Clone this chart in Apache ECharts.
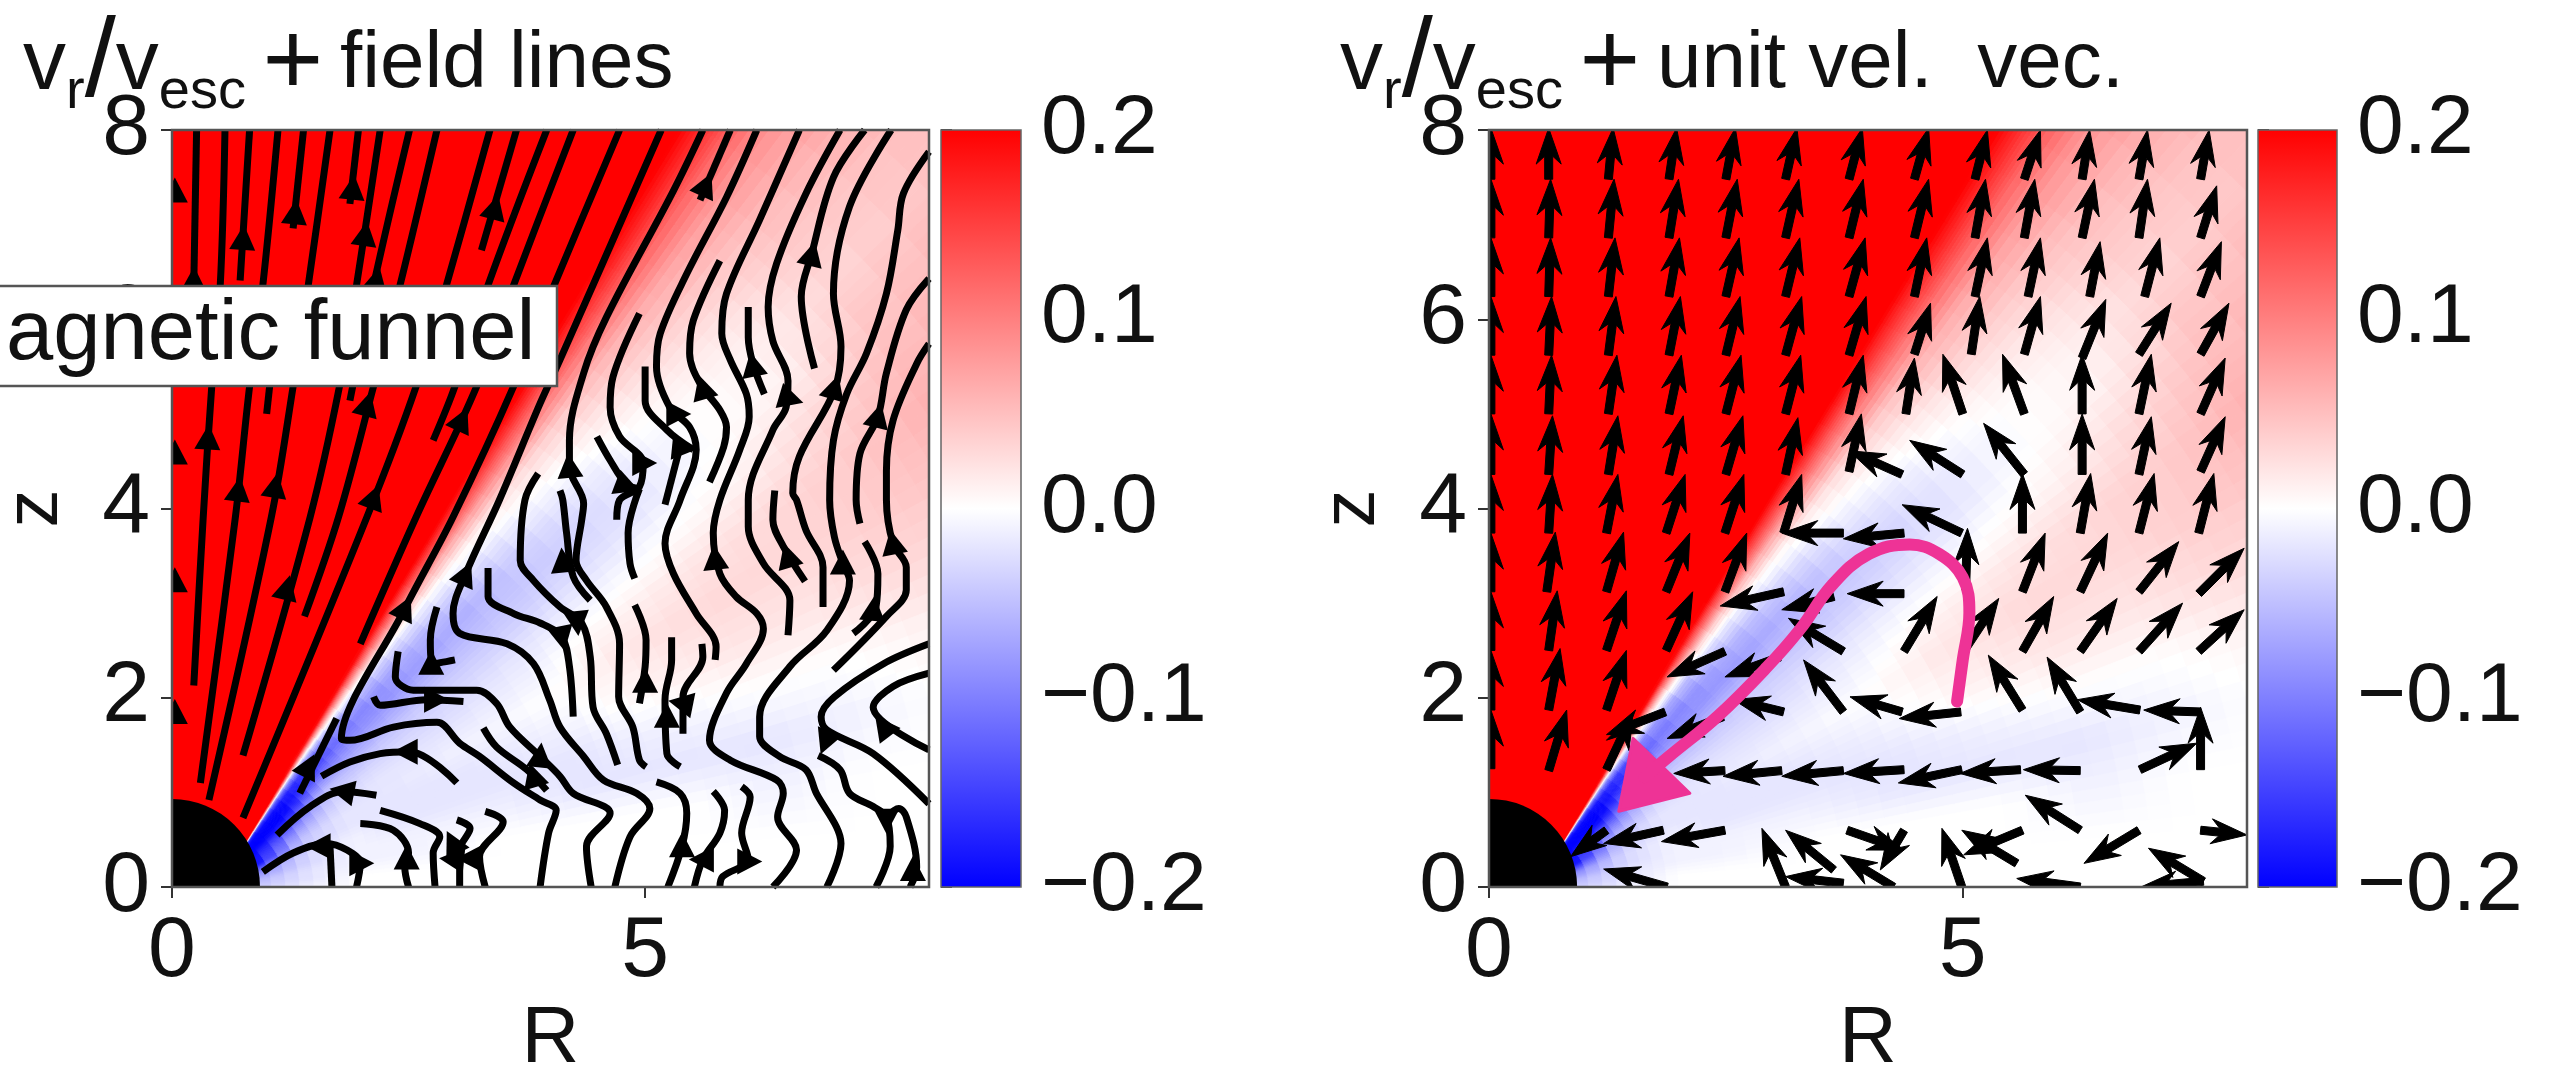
<!DOCTYPE html>
<html><head><meta charset="utf-8">
<style>html,body{margin:0;padding:0;background:#fff}#c{width:2566px;height:1079px}</style>
<script src="https://cdn.jsdelivr.net/npm/echarts@6/dist/echarts.min.js"></script>
</head><body><div id="c"></div>
<script>
const xTicks=[0,5], yTicksLeft=[0,2,4,6,8], yTicksRight=[0,2,4,6,8], barTicks=[-0.2,-0.1,0,0.1,0.2];
const barLabels={'-0.2':'\u22120.2','-0.1':'\u22120.1','0':'0.0','0.1':'0.1','0.2':'0.2'};
const titleLeft='field lines', titleRight='unit vel.  vec.', boxText='agnetic funnel';
const diskRadius=[0.93];
const funnelBase=[[0,0],[0,8],[5.6,8],[0.5,0]];
// v_r/v_esc x 100 on a fan mesh around (fanR,0): rows = distance, columns = angle from vertical
const fanR=[0.5];
const fanAngles=[26,29,31,32,33,34,36,39,42,45,48,52,56,60,65,70,75,80,85,90];
const fanDist=[0.4,1,1.5,2,3,4,5,6,7,8,9,11];
const fan040=[22,22,20,0,-15,-20,-20,-20,-20,-20,-20,-20,-20,-20,-15,-10,-8,-6,-5,-4];
const fan100=[22,22,20,8,-8,-14,-19,-20,-20,-18,-14,-10,-7,-5,-4,-3,-3,-2,-2,-1];
const fan150=[22,22,18,8,-2,-8,-15,-16,-12,-8,-5,-4,-3,-2,-2,-1,-1,-1,0,0];
const fan200=[22,22,19,10,3,-2,-9,-11,-9,-7,-5,-3,-2,-2,-2,-2,-1,-1,0,0];
const fan300=[22,22,19,13,8,3,-3,-7,-8,-6,-4,-3,-2,-1,-2,-2,-1,0,0,0];
const fan400=[22,22,20,15,11,6,0,-4,-6,-5,-4,-2,-1,0,-1,-2,-2,0,0,0];
const fan500=[22,22,20,16,12,8,2,-1,-3,-4,-3,-1,1,2,1,-1,-2,0,0,0];
const fan600=[22,22,21,17,13,10,4,1,-1,-2,-2,0,2,3,2,0,-2,-1,0,0];
const fan700=[22,22,21,17,14,11,6,3,1,0,0,1,3,3,2,0,-1,0,0,0];
const fan800=[22,22,21,18,15,12,7,4,2,1,1,3,4,4,3,1,0,0,0,0];
const fan900=[22,22,21,18,15,12,8,5,4,3,4,5,6,5,3,1,0,0,0,0];
const fan1100=[22,22,21,18,16,13,9,7,5,5,6,7,7,6,4,2,1,0,0,0];
const fanRows=[fan040,fan100,fan150,fan200,fan300,fan400,fan500,fan600,fan700,fan800,fan900,fan1100];

const fieldLines=[
[[.23,2.13],[.33,3.91],[.42,5.29],[.51,6.36],[.56,8]],
[[.30,1.10],[.67,3.91],[.82,5.29],[.96,6.36],[1.12,8]],
[[.23,6.36],[.26,8]],[[.72,6.41],[.82,8]],
[[.39,.92],[1.05,3.91],[1.28,5.29],[1.44,6.36],[1.67,8]],
[[1.0,5.0],[1.07,5.64]],[[1.28,6.96],[1.39,8]],
[[.75,1.39],[1.46,3.91],[1.77,5.29],[1.95,6.36],[2.2,8]],
[[1.88,7.22],[1.97,8]],[[1.88,5.14],[2.13,6.36],[2.51,8]],
[[1.40,2.86],[1.76,3.91],[2.13,5.29],[2.41,6.36],[2.80,8]],
[[.75,.73],[2.06,3.91],[2.58,5.29],[2.90,6.36],[3.36,8]],
[[3.27,6.73],[3.64,8]],[[2.76,4.72],[2.99,5.29],[3.34,6.36],[3.96,8]],
[[1.99,2.57],[2.58,3.91],[3.22,5.29],[3.61,6.36],[4.24,8]],
[[4.73,8],[4.06,6.41],[3.61,5.29],[2.97,3.91],[2.46,2.94],[1.79,1.57],[1.88,1.55],[2.34,1.69],[2.80,1.74],[3.04,1.52],[3.25,1.38],[3.61,1.10],[3.89,.92],[4.06,.81],[3.98,.57],[3.89,0]],
[[5.17,8],[4.1,5.57],[3.89,5.11],[3.46,4.09],[3.10,3.30],[2.97,2.89],[3.04,2.68],[3.54,2.57],[3.82,2.36],[3.99,1.98],[4.10,1.69],[4.35,1.38],[4.56,1.13],[4.91,.99],[5.05,.83],[4.84,.53],[4.68,0]],
[[5.61,8],[5.30,7.36],[4.59,6.02],[4.35,5.43],[4.2,4.72],[4.2,4.44],[4.35,4.05],[4.33,3.88],[4.27,3.45],[4.38,3.24],[4.59,2.96],[4.73,2.57],[4.72,2.01],[4.87,1.69],[4.94,1.34],[5.01,1.27]],
[[4.10,4.19],[4.13,4.09],[4.17,3.74],[4.24,3.28],[4.42,3.03]],
[[5.90,8],[5.58,7.26]],
[[6.18,8],[5.86,7.29],[5.44,6.48],[5.16,5.85],[5.12,5.5],[5.26,5.07],[5.47,4.86],[5.54,4.62],[5.37,4.09],[5.21,3.63],[5.30,3.31],[5.54,2.89],[5.75,2.54],[5.74,2.40]],
[[4.94,6.06],[4.66,5.39],[4.63,5.07],[4.73,4.76],[4.98,4.48],[4.94,4.23],[4.73,4.09],[4.70,3.88]],
[[5.0,5.5],[5.0,5.14],[5.23,4.83],[5.51,4.62]],[[5.35,4.58],[5.21,4.04]],
[[4.49,4.76],[4.63,4.51],[4.80,4.26],[4.94,4.21]],
[[4.94,4.21],[4.82,3.74],[4.84,3.42],[4.89,3.26]],
[[5.79,6.62],[5.51,5.99],[5.47,5.64],[5.58,5.32],[5.79,5.04],[5.86,4.86],[5.83,4.65],[5.68,4.28]],
[[6.63,8],[6.21,7.05],[5.86,6.27],[5.81,5.85],[5.90,5.57],[6.07,5.21],[6.10,4.97],[6.0,4.62],[5.79,4.09],[5.72,3.74],[5.79,3.31],[5.96,3.07],[6.18,2.89],[6.25,2.73],[6.07,2.36],[5.86,2.05],[5.68,1.55],[5.90,1.34],[6.39,1.13],[6.46,.99],[6.40,.74],[6.60,.39],[6.35,0]],
[[7.06,8],[6.70,7.33],[6.39,6.59],[6.30,6.13],[6.35,5.77],[6.51,5.35],[6.49,5.07],[6.35,4.83],[6.09,4.09],[6.09,3.81],[6.25,3.42],[6.53,3.03],[6.51,2.66]],
[[7.32,8],[6.99,7.5],[6.76,6.69],[6.65,6.24],[6.79,5.48]],
[[6.09,6.13],[6.09,5.81],[6.14,5.53],[6.26,5.21]],
[[7.60,8],[7.16,7.19],[6.99,6.27],[7.07,5.71],[7.0,5.25],[6.63,4.55],[6.56,4.16],[6.60,4.09],[6.70,3.77],[6.88,3.38],[6.88,2.96]],
[[6.37,4.19],[6.35,3.88],[6.46,3.6],[6.69,3.23]],
[[8,7.77],[7.73,7.33],[7.67,6.94],[7.55,6.27],[7.34,5.64],[7.13,5.21],[6.99,4.72],[6.95,4.09],[7.0,3.70],[7.09,3.42],[7.16,3.24],[6.92,2.71],[6.53,2.33],[6.21,1.80],[6.21,1.59],[6.42,1.38],[6.70,1.24],[6.81,.99],[7.02,.64],[7.07,.46],[6.92,0]],
[[8,6.43],[7.76,6.1],[7.55,5.43],[7.46,4.97],[7.27,4.58],[7.23,4.09],[7.27,3.84]],
[[8,5.74],[7.87,5.53],[7.62,4.93],[7.55,4.4],[7.55,4.09],[7.62,3.63],[7.76,3.38],[7.76,3.14],[7.55,2.86],[6.99,2.29]],
[[7.32,3.65],[7.46,3.31],[7.44,2.96],[7.2,2.68]],
[[8,2.57],[7.52,2.36],[7.0,2.01],[6.86,1.80],[6.92,1.66],[7.41,1.41],[8,.88]],
[[6.83,1.39],[7.06,1.24],[7.16,.99],[7.41,.85],[7.55,.74],[7.59,.43],[7.44,0]],
[[7.55,.74],[7.68,.83],[7.76,.74],[7.87,.21],[7.8,0]],
[[8,2.26],[7.62,2.12],[7.41,1.90],[8,1.45]],
[[4.89,2.98],[5.01,2.61],[5.0,2.33],[4.94,1.94]],
[[5.28,2.64],[5.28,2.40],[5.21,1.98],[5.23,1.41],[5.37,1.27]],
[[5.6,2.57],[5.61,2.43],[5.4,2.01],[5.4,1.62]],
[[5.12,1.11],[5.37,.99],[5.44,.78],[5.39,.43],[5.24,0]],
[[5.72,1.01],[5.84,.81],[5.79,.57],[5.61,.29],[5.52,0]],
[[6.02,1.06],[6.11,.95],[6.02,.57],[6.09,.29],[5.82,.11],[5.79,0]],
[[3.87,4.37],[3.73,4.09],[3.68,3.45],[3.82,3.24],[4.10,2.96],[4.33,2.79],[4.42,2.43],[4.45,1.9],[4.59,1.62],[4.71,1.29]],
[[3.34,3.37],[3.34,3.07],[3.61,2.89],[3.89,2.79],[4.12,2.64],[4.2,2.33],[4.24,1.8]],
[[3.29,1.68],[3.43,1.48],[3.75,1.24],[3.96,1.02]],
[[2.39,2.49],[2.36,2.22],[2.55,2.08],[2.80,2.08],[3.22,2.08],[3.43,1.94],[3.57,1.69],[3.89,1.38],[4.10,1.17],[4.24,.99],[4.63,.78],[4.38,.43],[4.43,0]],
[[2.13,2.01],[2.2,1.92],[2.69,1.98],[3.08,1.96]],
[[2.80,2.96],[2.73,2.61],[2.76,2.36],[2.99,2.40]],
[[1.35,.99],[1.74,1.78]],
[[1.58,1.17],[1.88,1.32],[2.2,1.41],[2.51,1.43],[3.01,1.10]],
[[1.11,.55],[1.46,.85],[1.81,1.01],[2.16,.97]],
[[.96,.16],[1.28,.36],[1.63,.46],[1.85,.39],[1.99,.25],[1.95,0]],
[[1.67,.43],[1.69,0]],
[[1.99,.67],[2.34,.60],[2.5,.36],[2.46,.21],[2.5,0]],
[[2.2,.81],[2.62,.67],[2.83,.53],[2.76,.36],[2.78,0]],
[[3.01,.71],[3.15,.62],[3.04,.39],[3.04,0]],
[[3.31,.80],[3.5,.69],[3.25,.32],[3.31,0]]
];
// R, z, direction dR, direction dz
const lineArrows=[
[.03,7.35,0,1],[.03,4.58,0,1],[.03,3.23,0,1],[.03,1.84,0,1],
[.75,6.85,.07,1],[1.30,7.12,.1,1],[1.91,7.38,.11,1],[2.04,6.89,.15,1],[3.41,7.17,.27,1],[.38,4.74,.06,1],
[2.06,5.09,.27,1],[3.06,4.93,.46,1],[.70,4.19,.13,1],[1.09,4.23,.17,1],[2.13,4.11,.38,1],[1.21,3.15,.25,1],
[2.46,2.94,.47,1],[3.10,3.30,.45,1],[1.44,1.27,.5,1],[2.16,6.41,.23,1],[.23,6.41,.02,1],
[4.2,4.44,-.1,1],[5.64,7.41,.45,1],[6.76,6.68,.25,1],[7.0,5.27,.3,1],[7.46,4.97,.25,1],[6.14,5.51,-.2,1],[5.61,5.27,-.3,1],
[6.53,5.16,1,-.3],[5.34,5.0,1,0],[5.4,4.64,1,-.1],[4.98,4.48,1,0],[4.80,4.24,.8,-.3],
[4.13,3.44,-.1,1],[4.28,2.80,.1,-1],[4.12,2.64,.2,-1],[5.74,3.47,-.1,1],[6.51,3.49,-.3,1],[7.09,3.42,0,1],[7.62,3.63,-.2,1],[7.41,2.93,.1,1],
[5.0,2.17,0,1],[5.23,1.8,0,1],[5.39,1.94,-1,.2],[6.91,1.54,-.4,-1],[7.52,1.69,-.6,.8],[7.55,.71,0,-1],[7.83,.18,0,1],[5.39,.43,0,1],[5.61,.29,-1,0],[6.09,.27,1,0],
[2.74,2.36,0,1],[2.78,1.98,1,0],[2.48,1.43,-1,0],[3.89,1.38,.1,1],[3.82,1.17,-.3,1],[1.81,1.01,-1,.2],[1.99,.25,1,0],[2.48,.30,0,1],[2.97,.46,-.5,1],[2.97,.29,-1,.1],[3.15,.30,-1,0],[1.56,.43,-1,0]
];
// tail R, tail z, tip R, tip z
const velocityOuter=[
[4.38,3.74,3.74,3.68],[4.99,3.74,4.36,4.04],[5.63,3.74,5.63,4.37],[6.24,3.74,6.35,4.37],[6.86,3.74,7.02,4.37],[7.49,3.74,7.65,4.37],
[4.38,3.10,3.78,3.10],[5.03,3.14,5.05,3.79],[5.63,3.12,5.87,3.74],[6.24,3.12,6.53,3.74],[6.86,3.12,7.28,3.65],[7.49,3.10,7.97,3.58],
[4.38,2.49,4.73,3.07],[5.01,2.49,5.38,3.05],[5.63,2.49,5.96,3.07],[6.24,2.49,6.63,3.05],[6.86,2.49,7.32,3.0],[7.49,2.49,7.97,2.93],
[5.63,1.87,5.27,2.45],[6.24,1.85,5.89,2.43],[6.87,1.87,6.21,1.98],[7.51,1.85,6.91,1.87],[4.98,1.85,4.33,1.78],[4.36,1.85,3.81,2.01],
[7.51,1.24,7.51,1.90],[6.87,1.24,7.47,1.52],[4.38,1.24,3.74,1.20],[4.99,1.24,4.32,1.10],[5.61,1.24,4.97,1.20],[6.24,1.23,5.64,1.24],
[6.24,.60,5.66,.97],[6.86,.60,6.28,.25],[7.51,.60,8.0,.55],[5.63,.60,5.01,.34],[5.57,.25,4.99,.60],[4.99,0,4.78,.62],[4.38,.60,4.13,.18],[3.78,.6,4.38,.39],[4.27,0,3.71,.34],
[7.54,.06,6.96,.41],[6.24,0,5.57,.09],[7.54,.06,6.88,0],
[3.74,3.74,3.09,3.74],[3.11,3.12,2.44,2.97],[3.64,3.07,3.09,2.93],[3.74,2.49,3.16,2.84],[2.49,2.49,1.88,2.22],[3.07,2.43,2.49,2.22],[3.74,1.85,3.32,2.40],[3.11,1.85,2.58,1.98],
[1.86,1.85,1.24,1.61],[2.47,1.80,1.88,1.57],[2.49,1.23,1.95,1.20],[3.09,1.23,2.47,1.17],[3.74,1.23,3.09,1.17],
[1.84,.60,1.21,.46],[2.49,.60,1.82,.48],[1.24,.60,.86,.32],[1.88,0,1.21,.19],[3.13,0,2.88,.62],[3.64,.18,3.13,.60],[3.74,.04,3.13,.11],
[3.80,4.39,3.93,5.0],[4.36,4.36,3.80,4.61],[5.0,4.36,4.44,4.72],[5.65,4.36,5.22,4.90],[6.26,4.36,6.26,5.0],[6.86,4.36,6.99,4.97],[7.51,4.39,7.77,4.97],
[4.40,5.0,4.49,5.59],[5.0,5.0,4.79,5.63],[5.65,5.0,5.42,5.63],[6.26,5.0,6.26,5.63],[6.86,5.0,6.99,5.63],[7.51,5.0,7.77,5.59],
[4.49,5.63,4.66,6.17],[5.09,5.63,5.18,6.24],[5.65,5.63,5.82,6.24],[6.26,5.59,6.51,6.21],[6.86,5.63,7.2,6.17],[7.51,5.63,7.81,6.17],
[4.49,6.24,4.62,6.86],[5.13,6.24,5.26,6.86],[5.69,6.24,5.82,6.86],[6.34,6.24,6.45,6.82],[6.92,6.24,7.08,6.86],[7.51,6.24,7.73,6.82],
[5.13,6.86,5.24,7.48],[5.65,6.86,5.76,7.48],[6.26,6.86,6.39,7.48],[6.86,6.86,6.95,7.48],[7.51,6.86,7.68,7.41],
[5.13,7.48,5.26,8],[5.65,7.48,5.82,8],[6.26,7.48,6.34,8],[6.86,7.48,6.95,8],[7.51,7.48,7.6,8]
];
const velocityFunnel=[
[.63,1.23,.82,1.87],[1.24,1.24,1.52,1.84],
[.63,1.87,.75,2.52],[1.24,1.87,1.45,2.50],
[.63,2.50,.72,3.13],[1.24,2.50,1.45,3.13],[1.87,2.50,2.15,3.12],
[.61,3.12,.70,3.75],[1.24,3.12,1.42,3.75],[1.87,3.12,2.12,3.74],[2.49,3.12,2.72,3.74],
[.63,3.74,.67,4.36],[1.24,3.74,1.36,4.36],[1.87,3.74,2.07,4.36],[2.49,3.74,2.69,4.36],[3.11,3.74,3.30,4.36],
[.63,4.36,.67,4.98],[1.26,4.36,1.36,4.98],[1.9,4.36,2.05,4.98],[2.5,4.36,2.68,4.98],[3.13,4.36,3.26,4.96],
[.63,5.0,.66,5.62],[1.26,5.0,1.35,5.62],[1.9,5.0,2.03,5.62],[2.5,5.0,2.66,5.62],[3.13,5.0,3.29,5.62],[3.8,5.0,3.95,5.62],
[.63,5.62,.66,6.24],[1.26,5.62,1.34,6.24],[1.9,5.62,2.02,6.24],[2.5,5.62,2.65,6.24],[3.13,5.62,3.30,6.24],[3.8,5.62,3.98,6.24],
[.63,6.24,.65,6.86],[1.26,6.24,1.33,6.86],[1.9,6.24,2.01,6.86],[2.5,6.24,2.64,6.86],[3.13,6.24,3.28,6.86],[3.8,6.24,3.97,6.86],
[.63,6.86,.65,7.48],[1.26,6.86,1.32,7.48],[1.9,6.86,2.0,7.48],[2.5,6.86,2.62,7.48],[3.13,6.86,3.27,7.48],[3.8,6.86,3.95,7.48],[4.49,6.86,4.64,7.48],
[.63,7.48,.63,8.02],[1.26,7.48,1.31,8.02],[1.9,7.48,1.98,8.02],[2.5,7.48,2.6,8.02],[3.13,7.48,3.25,8.02],[3.8,7.48,3.94,8.02],[4.49,7.48,4.64,8.02],
[.02,1.25,.02,1.87],[.02,1.87,.02,2.5],[.02,2.5,.02,3.12],[.02,3.12,.02,3.74],[.02,3.74,.02,4.36],[.02,4.36,.02,5.0],[.02,5.0,.02,5.62],[.02,5.62,.02,6.24],[.02,6.24,.02,6.86],[.02,6.86,.02,7.48],[.02,7.48,.02,8.02]
];
const pinkPath=[[4.94,1.96],[5.0,2.40],[5.07,2.90],[5.0,3.27],[4.75,3.52],[4.44,3.62],[4.01,3.52],[3.62,3.19],[3.28,2.72],[2.93,2.32],[2.42,1.81],[1.90,1.38],[1.64,1.16]];
const pinkHead=[[1.52,1.57],[2.12,.99],[1.37,.80]];

function bwr(v){
  const t=Math.max(-1,Math.min(1,v/0.2));
  if(t>=0){const c=Math.round(255*(1-t));return `rgb(255,${c},${c})`;}
  const c=Math.round(255*(1+t));return `rgb(${c},${c},255)`;
}
const SUBA=4,SUBD=4;
function fanPoint(a,d){const r=a*Math.PI/180;return [fanR[0]+d*Math.sin(r),d*Math.cos(r)];}
const meshCells=[];
for(let i=0;i<fanDist.length-1;i++)for(let j=0;j<fanAngles.length-1;j++){
  for(let p=0;p<SUBD;p++)for(let q=0;q<SUBA;q++){
    const d0=fanDist[i]+(fanDist[i+1]-fanDist[i])*p/SUBD,d1=fanDist[i]+(fanDist[i+1]-fanDist[i])*(p+1)/SUBD;
    const a0=fanAngles[j]+(fanAngles[j+1]-fanAngles[j])*q/SUBA,a1=fanAngles[j]+(fanAngles[j+1]-fanAngles[j])*(q+1)/SUBA;
    const u=(p+.5)/SUBD,w=(q+.5)/SUBA;
    const v=(fanRows[i][j]*(1-u)*(1-w)+fanRows[i+1][j]*u*(1-w)+fanRows[i][j+1]*(1-u)*w+fanRows[i+1][j+1]*u*w)/100;
    meshCells.push({pts:[fanPoint(a0,d0),fanPoint(a1,d0),fanPoint(a1,d1),fanPoint(a0,d1)],v});
  }
}
const meshData=meshCells.map(c=>[c.pts[0][0],c.pts[0][1],c.v]);
const F='"Liberation Sans",sans-serif';
const INK='#111';

function panelSeries(k){
  const base={xAxisIndex:k,yAxisIndex:k,animation:false,silent:true};
  return [
   {...base,type:'custom',z:1,clip:true,progressive:0,data:[[0,0]],renderItem(p,api){
      return {type:'polygon',shape:{points:funnelBase.map(q=>api.coord(q))},style:{fill:'#ff0000'}};}},
   {...base,type:'custom',z:2,clip:true,progressive:0,data:meshData,renderItem(p,api){
      const c=meshCells[p.dataIndex],col=bwr(c.v);
      return {type:'polygon',shape:{points:c.pts.map(q=>api.coord(q))},style:{fill:col,stroke:col,lineWidth:1}};}},
   {...base,type:'custom',z:9,clip:false,data:[[0,0]],renderItem(p,api){
      const a=api.coord([0,0]),b=api.coord([8,8]);
      return {type:'rect',shape:{x:a[0],y:b[1],width:b[0]-a[0],height:a[1]-b[1]},style:{fill:'none',stroke:'#555',lineWidth:2.5}};}},
   {...base,type:'custom',z:8,clip:true,data:[[0,0]],renderItem(p,api){
      const c=api.coord([0,0]),e=api.coord([diskRadius[0],0]);
      return {type:'circle',shape:{cx:c[0],cy:c[1],r:e[0]-c[0]},style:{fill:'#000'}};}}
  ];
}
function tri(api,a){
  const c=api.coord([a[0],a[1]]);let dx=a[2],dy=-a[3];const n=Math.hypot(dx,dy);dx/=n;dy/=n;
  const L=14,B=11,W=13;
  return [[c[0]+dx*L,c[1]+dy*L],[c[0]-dx*B-dy*W,c[1]-dy*B+dx*W],[c[0]-dx*B+dy*W,c[1]-dy*B-dx*W]];
}
function quiver(api,a){
  const t=api.coord([a[0],a[1]]),h=api.coord([a[2],a[3]]);
  let dx=h[0]-t[0],dy=h[1]-t[1];const n=Math.hypot(dx,dy);dx/=n;dy/=n;
  const s=4,W=12.5,HL=36,back=HL*0.78;
  const px=-dy,py=dx;
  const P=(al,w)=>[h[0]-dx*al+px*w,h[1]-dy*al+py*w];
  return [P(n,s),P(back,s),P(HL,W),P(0,0),P(HL,-W),P(back,-s),P(n,-s)];
}
const series=[...panelSeries(0),...panelSeries(1)];
fieldLines.forEach(l=>series.push({type:'line',xAxisIndex:0,yAxisIndex:0,data:l,smooth:0.35,showSymbol:false,clip:true,z:5,silent:true,animation:false,lineStyle:{color:'#000',width:7,cap:'butt',join:'round'}}));
series.push({type:'custom',xAxisIndex:0,yAxisIndex:0,z:6,clip:true,animation:false,silent:true,data:lineArrows,renderItem(p,api){
  return {type:'polygon',shape:{points:tri(api,lineArrows[p.dataIndex])},style:{fill:'#000'}};}});
[velocityFunnel,velocityOuter].forEach(arr=>series.push({type:'custom',xAxisIndex:1,yAxisIndex:1,z:6,clip:true,animation:false,silent:true,data:arr,renderItem(p,api){
  return {type:'polygon',shape:{points:quiver(api,arr[p.dataIndex])},style:{fill:'#000',stroke:'#000',lineWidth:1}};}}));
series.push({type:'line',xAxisIndex:1,yAxisIndex:1,z:7,data:pinkPath,smooth:0.4,showSymbol:false,silent:true,animation:false,lineStyle:{color:'#ee3396',width:12,cap:'round'}});
series.push({type:'custom',xAxisIndex:1,yAxisIndex:1,z:7,animation:false,silent:true,data:[[0,0]],renderItem(p,api){
  return {type:'polygon',shape:{points:pinkHead.map(q=>api.coord(q))},style:{fill:'#ee3396',stroke:'#ee3396',lineWidth:3,lineJoin:'round'}};}});
[2,3].forEach(k=>series.push({type:'custom',xAxisIndex:k,yAxisIndex:k,z:3,clip:false,animation:false,silent:true,data:[[0,-0.2]],renderItem(p,api){
  const a=api.coord([0,-0.2]),b=api.coord([1,0.2]);
  return {type:'rect',shape:{x:a[0],y:b[1],width:b[0]-a[0],height:a[1]-b[1]},style:{stroke:'#666',lineWidth:1.5,fill:new echarts.graphic.LinearGradient(0,0,0,1,[{offset:0,color:bwr(.2)},{offset:.5,color:bwr(0)},{offset:1,color:bwr(-.2)}])}};}}));

const tickStyle={show:true,length:11,lineStyle:{color:'#333',width:2}};
function xA(i,name,show){return {gridIndex:i,type:'value',min:0,max:i<2?8:1,show:true,
  axisLine:{show:false},splitLine:{show:false},
  axisTick:show?{...tickStyle,customValues:xTicks}:{show:false},
  axisLabel:show?{show:true,customValues:xTicks,fontFamily:F,fontSize:86,color:INK,margin:22,formatter:v=>String(v)}:{show:false},
  name:name,nameLocation:'middle',nameGap:112,nameTextStyle:{fontFamily:F,fontSize:80,color:INK}};}
function yA(i,vals){return {gridIndex:i,type:'value',min:0,max:8,
  axisLine:{show:false},splitLine:{show:false},
  axisTick:{...tickStyle,customValues:vals},
  axisLabel:{show:true,customValues:vals,fontFamily:F,fontSize:86,color:INK,margin:22,formatter:v=>String(v)},
  name:'z',nameLocation:'middle',nameGap:98,nameRotate:90,nameTextStyle:{fontFamily:F,fontSize:76,color:INK}};}
function barY(i){return {gridIndex:i,type:'value',min:-0.2,max:0.2,position:'right',
  axisLine:{show:false},splitLine:{show:false},
  axisTick:{...tickStyle,customValues:barTicks},
  axisLabel:{show:true,customValues:barTicks,fontFamily:F,fontSize:84,color:INK,margin:20,formatter:v=>barLabels[String(Math.round(v*10)/10)]}};}
function ttl(left,text){return {left:left,top:4,text:`{v|v}{s|r}{l|/}{v|v}{s|esc}{g| }{p|+}{g| }{t|${text}}`,textStyle:{fontWeight:'normal',rich:{
   v:{fontFamily:F,fontSize:86,fontWeight:'normal',color:INK},
   t:{fontFamily:F,fontSize:80,fontWeight:'normal',color:INK},
   g:{fontFamily:F,fontSize:60,fontWeight:'normal',color:INK},
   p:{fontFamily:F,fontSize:104,fontWeight:'normal',color:INK},
   l:{fontFamily:F,fontSize:112,fontWeight:'normal',color:INK},
   s:{fontFamily:F,fontSize:56,fontWeight:'normal',color:INK,verticalAlign:'bottom',padding:[24,0,0,0]}}}};}
const chart=echarts.init(document.getElementById('c'),null,{renderer:'canvas',width:2566,height:1079});
const gridBase={outerBoundsMode:'none',containLabel:false};
chart.setOption({
  backgroundColor:'#fff',animation:false,
  title:[ttl(18,titleLeft),ttl(1335,titleRight)],
  grid:[{...gridBase,left:172,top:130,width:757,height:757},{...gridBase,left:1489,top:130,width:758,height:757},
        {...gridBase,left:941,top:130,width:80,height:757},{...gridBase,left:2258,top:130,width:79,height:757}],
  xAxis:[xA(0,'R',true),xA(1,'R',true),xA(2,'',false),xA(3,'',false)],
  yAxis:[yA(0,yTicksLeft),yA(1,yTicksRight),barY(2),barY(3)],
  series:series,
  graphic:[{type:'group',z:100,children:[
    {type:'rect',shape:{x:-10,y:286,width:567,height:100},style:{fill:'#fff',stroke:'#555',lineWidth:2.5},z:100},
    {type:'text',x:6,y:336,style:{text:boxText,font:'85px "Liberation Sans"',fill:'#111',textVerticalAlign:'middle'},z:101}
  ]}]
});
</script></body></html>
